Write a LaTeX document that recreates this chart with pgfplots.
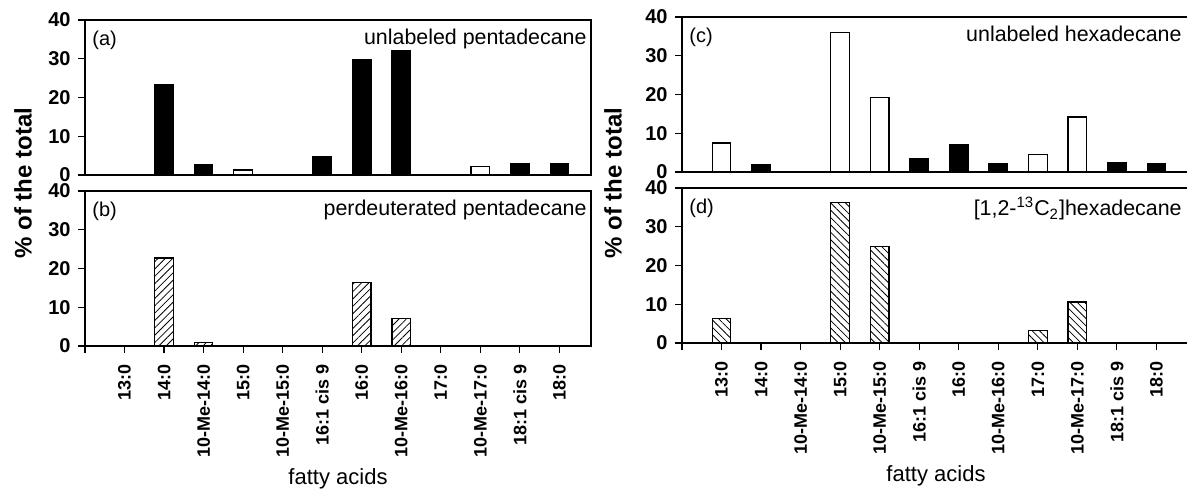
\documentclass[border=0pt]{standalone}
\usepackage{pgfplots}
\pgfplotsset{compat=1.18}
\usetikzlibrary{patterns.meta}
\usepackage{fontspec}
\setmainfont{Liberation Sans}

\tikzset{
  lbl/.style={font=\fontsize{10.7}{12}\selectfont},
  tag/.style={font=\fontsize{10}{12}\selectfont},
}
\pgfplotsset{
  panel/.style={
    scale only axis, width=253pt, height=77.5pt,
    xmin=0, xmax=12.8, ymin=0, ymax=40,
    ytick={0,10,20,30,40},
    tick align=outside, xtick pos=bottom, ytick pos=left,
    major tick length=3.5pt,
    tick style={black, line width=0.6pt},
    axis line style={line width=0.7pt},
    /pgf/number format/assume math mode=true,
    yticklabel style={font=\fontsize{10}{12}\selectfont\bfseries, inner sep=2.5pt, xshift=-1pt},
    xticklabel style={font=\fontsize{9}{11}\selectfont\bfseries, rotate=90, anchor=east, inner sep=2.5pt, xshift=-3pt},
    clip=false,
  },
  toppanel/.style={panel, xtick=\empty},
  botpanel/.style={panel, xtick={0,...,12},
    xticklabels={,13:0,14:0,10-Me-14:0,15:0,10-Me-15:0,16:1 cis 9,16:0,10-Me-16:0,17:0,10-Me-17:0,18:1 cis 9,18:0},
    xlabel={fatty acids},
    xlabel style={font=\fontsize{11}{13}\selectfont, at={(axis description cs:0.5,0)}, anchor=center, yshift=-66.5pt}},
  blackbar/.style={ybar, bar width=0.47, bar shift=0, fill=black, draw=black, line width=0.5pt},
  openbar/.style={ybar, bar width=0.47, bar shift=0, fill=white, draw=black, line width=0.6pt},
  hatchne/.style={ybar, bar width=0.47, bar shift=0, draw=black, line width=0.6pt,
    pattern={Lines[angle=45, distance=2.6pt, line width=0.4pt]}},
  hatchnw/.style={ybar, bar width=0.47, bar shift=0, draw=black, line width=0.6pt,
    pattern={Lines[angle=-45, distance=2.6pt, line width=0.4pt]}},
}

\begin{document}
\begin{tikzpicture}
% (a) unlabeled pentadecane
\begin{axis}[toppanel, at={(0pt,0pt)}, anchor=south west]
  \addplot[blackbar] coordinates {(2,23.4) (3,2.8) (6,4.8) (7,29.9) (8,32.1) (11,2.9) (12,2.9)};
  \addplot[openbar] coordinates {(4,1.3) (10,2.1)};
  \node[tag, anchor=north west, inner sep=2pt, xshift=1.5pt, yshift=-3.5pt] at (rel axis cs:0,1) {(a)};
  \node[lbl, anchor=north east, inner sep=2pt, yshift=-2.5pt] at (rel axis cs:1,1) {unlabeled pentadecane};
\end{axis}
% (b) perdeuterated pentadecane
\begin{axis}[botpanel, at={(0pt,-8pt)}, anchor=north west]
  \addplot[hatchne] coordinates {(2,22.7) (3,0.9) (7,16.4) (8,7.1)};
  \node[tag, anchor=north west, inner sep=2pt, xshift=1.5pt, yshift=-3.5pt] at (rel axis cs:0,1) {(b)};
  \node[lbl, anchor=north east, inner sep=2pt, yshift=-2.5pt] at (rel axis cs:1,1) {perdeuterated pentadecane};
\end{axis}
% (c) unlabeled hexadecane
\begin{axis}[toppanel, width=254pt, xmax=12.85, at={(298.5pt,1.5pt)}, anchor=south west]
  \addplot[openbar] coordinates {(1,7.5) (4,35.9) (5,19.2) (9,4.5) (10,14.2)};
  \addplot[blackbar] coordinates {(2,2.0) (6,3.4) (7,7.0) (8,2.3) (11,2.5) (12,2.3)};
  \node[tag, anchor=north west, inner sep=2pt, xshift=1.5pt, yshift=-3.5pt] at (rel axis cs:0,1) {(c)};
  \node[lbl, anchor=north east, inner sep=2pt, xshift=-2pt, yshift=-2.5pt] at (rel axis cs:1,1) {unlabeled hexadecane};
\end{axis}
% (d) [1,2-13C2]hexadecane
\begin{axis}[botpanel, width=254pt, xmax=12.85, at={(298.5pt,-6.5pt)}, anchor=north west]
  \addplot[hatchnw] coordinates {(1,6.3) (4,36.2) (5,24.8) (9,3.2) (10,10.6)};
  \node[tag, anchor=north west, inner sep=2pt, xshift=1.5pt, yshift=-3.5pt] at (rel axis cs:0,1) {(d)};
  \node[lbl, anchor=north east, inner sep=2pt, xshift=-2pt, yshift=-2.5pt] at (rel axis cs:1,1) {[1,2-\textsuperscript{13}C\textsubscript{2}]hexadecane};
\end{axis}
\node[rotate=90, font=\fontsize{12}{14}\selectfont\bfseries] at (-31pt,-4pt) {\% of the total};
\node[rotate=90, font=\fontsize{12}{14}\selectfont\bfseries] at (264pt,-4pt) {\% of the total};
\pgfresetboundingbox
\path[use as bounding box] (-42.5pt,-157.5pt) rectangle (551pt,87.5pt);
\end{tikzpicture}
\end{document}
